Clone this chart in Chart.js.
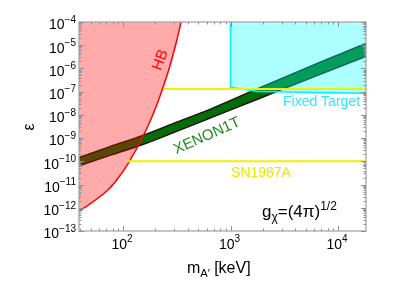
<!DOCTYPE html>
<html>
<head>
<meta charset="utf-8">
<script src="https://cdn.jsdelivr.net/npm/chart.js@4.4.1/dist/chart.umd.min.js"></script>
<style>
  html, body { margin: 0; padding: 0; background: #fff; }
  #wrap { width: 396px; height: 305px; }
</style>
</head>
<body>
<div id="wrap"><canvas id="chart" width="396" height="305"></canvas></div>
<script>
// dark photon mass in keV, kinetic mixing epsilon

// HB star cooling bound (excluded to the left)
const hbMass = [39, 72.4, 87.3, 112, 164, 206, 234, 275, 317, 347];
const hbEps = [6.9e-13, 5.8e-12, 1.57e-11, 8.2e-11, 2.23e-9, 2.66e-8, 1.4e-7, 1.41e-6, 1.68e-5, 1e-4];

// XENON1T preferred band
const xenonMass = [39, 75.7, 153, 320, 644, 1880, 7100, 18200];
const xenonUpper = [1.45e-10, 4.3e-10, 1.3e-9, 5.0e-9, 1.74e-8, 1.5e-7, 2.0e-6, 1.2e-5];
const xenonLower = [6.3e-11, 1.8e-10, 5.3e-10, 2.0e-9, 7.2e-9, 5.2e-8, 6.0e-7, 3.3e-6];

// fixed target experiments (excluded above)
const fixedMass = [1000, 1000, 1800, 18200];
const fixedEps = [1e-4, 1.55e-7, 1.02e-7, 8.5e-8];

// SN1987A bounds
const snMassUpper = [236, 18200];
const snEpsUpper = [1.3e-7, 1.3e-7];
const snMassLower = [111, 18200];
const snEpsLower = [1e-10, 1e-10];

const xTickExp = [2, 3, 4];
const yTickExp = [-4, -5, -6, -7, -8, -9, -10, -11, -12, -13];

const FONT = "'Liberation Sans', Arial, sans-serif";

const pts = (xs, ys) => xs.map((v, i) => ({ x: v, y: ys[i] }));

const axesPlugin = {
  id: 'axes',
  afterDraw(chart) {
    const { ctx, chartArea: a, scales: { x, y } } = chart;
    ctx.save();

    // frame
    ctx.strokeStyle = '#a8a8a8';
    ctx.lineWidth = 1.3;
    ctx.strokeRect(a.left, a.top, a.right - a.left, a.bottom - a.top);

    // inward tick marks
    ctx.lineWidth = 1;
    ctx.strokeStyle = '#909090';
    const seg = (x1, y1, x2, y2) => { ctx.beginPath(); ctx.moveTo(x1, y1); ctx.lineTo(x2, y2); ctx.stroke(); };
    for (let d = 1; d <= 4; d++) {
      for (let m = 1; m < 10; m++) {
        const v = m * Math.pow(10, d);
        if (v < x.min || v > x.max) continue;
        const px = Math.round(x.getPixelForValue(v)) + 0.5;
        const len = m === 1 ? 5 : 2.5;
        seg(px, a.bottom, px, a.bottom - len);
        seg(px, a.top, px, a.top + len);
      }
    }
    for (let d = -13; d <= -4; d++) {
      for (let m = 1; m < 10; m++) {
        const v = m * Math.pow(10, d);
        if (v < y.min * 0.999 || v > y.max * 1.001) continue;
        const py = Math.round(y.getPixelForValue(v)) + 0.5;
        const len = m === 1 ? 5 : 2.5;
        seg(a.left, py, a.left + len, py);
        seg(a.right, py, a.right - len, py);
      }
    }

    // tick labels
    ctx.fillStyle = '#000';
    ctx.textBaseline = 'middle';
    yTickExp.forEach(e => {
      const py = y.getPixelForValue(Math.pow(10, e));
      const ex = String(e).replace('-', '\u2212');
      ctx.font = '10px ' + FONT;
      ctx.textAlign = 'right';
      const ew = ctx.measureText(ex).width;
      ctx.fillText(ex, 76, py - 2);
      ctx.font = '14px ' + FONT;
      ctx.fillText('10', 76 - ew, py + 3.5);
    });
    xTickExp.forEach(e => {
      const px = x.getPixelForValue(Math.pow(10, e));
      ctx.font = '14px ' + FONT;
      const bw = ctx.measureText('10').width;
      ctx.font = '10px ' + FONT;
      const ew = ctx.measureText(String(e)).width;
      const x0 = px - (bw + ew) / 2 - 1;
      ctx.textAlign = 'left';
      ctx.font = '14px ' + FONT;
      ctx.fillText('10', x0, a.bottom + 14);
      ctx.font = '10px ' + FONT;
      ctx.fillText(String(e), x0 + bw, a.bottom + 8.5);
    });

    // axis titles
    ctx.textBaseline = 'alphabetic';
    ctx.textAlign = 'left';
    let cx = 187;
    ctx.font = '16px ' + FONT;
    ctx.fillText('m', cx, 273);
    cx += ctx.measureText('m').width;
    ctx.font = '11px ' + FONT;
    ctx.fillText('A\u2032', cx, 277);
    cx += ctx.measureText('A\u2032').width;
    ctx.font = '16px ' + FONT;
    ctx.fillText(' [keV]', cx, 273);

    ctx.save();
    ctx.translate(30, 127);
    ctx.rotate(-Math.PI / 2);
    ctx.textAlign = 'center';
    ctx.textBaseline = 'middle';
    ctx.font = '16px ' + FONT;
    ctx.fillText('\u03b5', 0, 0);
    ctx.restore();

    // coupling note
    cx = 262;
    ctx.font = '17px ' + FONT;
    ctx.fillText('g', cx, 217);
    cx += ctx.measureText('g').width;
    ctx.font = '12px ' + FONT;
    ctx.fillText('\u03c7', cx, 221);
    cx += ctx.measureText('\u03c7').width;
    ctx.font = '17px ' + FONT;
    ctx.fillText('=(4\u03c0)', cx, 217);
    cx += ctx.measureText('=(4\u03c0)').width;
    ctx.font = '12px ' + FONT;
    ctx.fillText('1/2', cx, 210);

    // region labels
    ctx.font = '14px ' + FONT;
    ctx.fillStyle = '#22eeff';
    ctx.fillText('Fixed Target', 283, 106);
    ctx.fillStyle = '#e8e800';
    ctx.fillText('SN1987A', 231, 177);

    ctx.textAlign = 'center';
    ctx.textBaseline = 'middle';
    ctx.save();
    ctx.translate(207, 136);
    ctx.rotate(-24 * Math.PI / 180);
    ctx.font = '15px ' + FONT;
    ctx.fillStyle = '#178a17';
    ctx.fillText('XENON1T', 0, 0);
    ctx.restore();

    ctx.save();
    ctx.translate(160.5, 60);
    ctx.rotate(-70 * Math.PI / 180);
    ctx.font = '15px ' + FONT;
    ctx.fillStyle = '#ff0000';
    ctx.fillText('HB', 0, 0);
    ctx.restore();

    ctx.restore();
  }
};

const chart = new Chart(document.getElementById('chart'), {
  type: 'scatter',
  data: {
    datasets: [
      {
        label: 'XENON1T upper',
        data: pts(xenonMass, xenonUpper),
        showLine: true,
        borderColor: '#1c1008',
        borderWidth: 1.4,
        pointRadius: 0,
        cubicInterpolationMode: 'monotone',
        fill: false,
        order: 5
      },
      {
        label: 'XENON1T lower',
        data: pts(xenonMass, xenonLower),
        showLine: true,
        borderColor: '#1c1008',
        borderWidth: 1.4,
        pointRadius: 0,
        cubicInterpolationMode: 'monotone',
        backgroundColor: 'rgb(5,108,10)',
        fill: '-1',
        order: 5
      },
      {
        label: 'HB',
        data: pts(hbMass, hbEps),
        showLine: true,
        borderColor: '#ff0000',
        borderWidth: 1.5,
        pointRadius: 0,
        backgroundColor: 'rgba(255,0,0,0.33)',
        fill: 'end',
        cubicInterpolationMode: 'monotone',
        order: 3
      },
      {
        label: 'Fixed Target',
        data: pts(fixedMass, fixedEps),
        showLine: true,
        borderColor: '#00f0ff',
        borderWidth: 1.5,
        pointRadius: 0,
        backgroundColor: 'rgba(0,255,255,0.33)',
        fill: 'end',
        order: 3
      },
      {
        label: 'SN1987A upper',
        data: pts(snMassUpper, snEpsUpper),
        showLine: true,
        borderColor: '#f0f000',
        borderWidth: 2,
        pointRadius: 0,
        fill: false,
        order: 1
      },
      {
        label: 'SN1987A lower',
        data: pts(snMassLower, snEpsLower),
        showLine: true,
        borderColor: '#f0f000',
        borderWidth: 2,
        pointRadius: 0,
        fill: false,
        order: 1
      }
    ]
  },
  options: {
    responsive: false,
    animation: false,
    layout: { padding: { left: 79, right: 30, top: 22, bottom: 74 } },
    plugins: { legend: { display: false }, tooltip: { enabled: false } },
    scales: {
      x: { type: 'logarithmic', min: 39, max: 18200, display: false },
      y: { type: 'logarithmic', min: 1e-13, max: 1e-4, display: false }
    }
  },
  plugins: [axesPlugin]
});
</script>
</body>
</html>
